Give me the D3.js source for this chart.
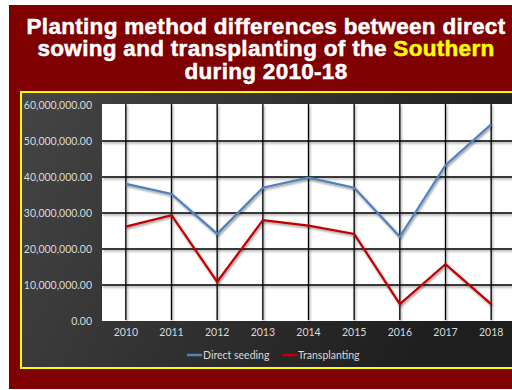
<html>
  <head>
    <meta charset="utf-8">
    <title>Planting method differences</title>
    <style>
      body { margin: 0; background: #fff; }
      svg { display: block; }
    </style>
    <script src="https://d3js.org/d3.v7.min.js"></script>
  </head>
  <body>
    <svg id="chart"></svg>
    <script>
      // values
      let years = ['2010', '2011', '2012', '2013', '2014', '2015', '2016', '2017', '2018'];
      let directSeeding = [38.1e6, 35.3e6, 24.2e6, 37.0e6, 39.8e6, 37.0e6, 23.4e6, 43.3e6, 54.6e6];
      let transplanting = [26.2e6, 29.4e6, 10.9e6, 28.0e6, 26.5e6, 24.2e6, 4.7e6, 15.8e6, 4.7e6];
      let yTicks = [0, 10e6, 20e6, 30e6, 40e6, 50e6, 60e6];
      let seriesNames = ['Direct seeding', 'Transplanting'];
      let seriesColors = ['#4f81bd', '#c00000'];

      let width = 512, height = 390;
      let svg = d3.select('#chart').attr('width', width).attr('height', height);

      let defs = svg.append('defs');
      let grad = defs.append('linearGradient').attr('id', 'boxbg')
        .attr('x1', '0%').attr('y1', '0%').attr('x2', '100%').attr('y2', '30%');
      grad.append('stop').attr('offset', '0%').attr('stop-color', '#454545');
      grad.append('stop').attr('offset', '100%').attr('stop-color', '#1e1e1e');
      let shadow = defs.append('filter').attr('id', 'shadow')
        .attr('x', '-10%').attr('y', '-10%').attr('width', '130%').attr('height', '130%');
      shadow.append('feDropShadow').attr('dx', 1).attr('dy', 1.5)
        .attr('stdDeviation', 0.8).attr('flood-color', '#000').attr('flood-opacity', 0.45);

      // dark red slide background
      svg.append('rect').attr('x', 9).attr('y', 5).attr('width', 503).attr('height', 384)
        .attr('fill', '#7f0000');

      // title
      let title = svg.append('text')
        .attr('text-anchor', 'middle')
        .style('font-family', '"Liberation Sans", Arial, sans-serif')
        .style('font-weight', 'bold')
        .style('font-size', '22.5px')
        .style('letter-spacing', '0.3px')
        .attr('fill', '#fff')
        .attr('stroke', '#fff')
        .attr('stroke-width', 0.5);
      title.append('tspan').attr('x', 266).attr('y', 33.5)
        .text('Planting method differences between direct');
      let line2 = title.append('tspan').attr('x', 266).attr('y', 56);
      line2.append('tspan').text('sowing and transplanting of the ');
      line2.append('tspan').attr('fill', '#ffff00').attr('stroke', '#ffff00').text('Southern');
      title.append('tspan').attr('x', 266).attr('y', 78.5).text('during 2010-18');

      // chart box with yellow border
      svg.append('rect').attr('x', 21).attr('y', 92).attr('width', 500).attr('height', 276)
        .attr('fill', 'url(#boxbg)').attr('stroke', '#ffff00').attr('stroke-width', 2);

      // plot area
      svg.append('rect').attr('x', 102).attr('y', 104).attr('width', 420).attr('height', 217)
        .attr('fill', '#fff');

      let xScale = d3.scaleBand().domain(years).range([103, 514]);
      let yScale = d3.scaleLinear().domain([0, 60e6]).range([321, 105]);
      let xc = d => xScale(d) + xScale.bandwidth() / 2;

      let grid = svg.append('g').attr('filter', 'url(#shadow)');
      grid.selectAll('line.h')
        .data(yTicks.filter(t => t > 0 && t < 60e6))
        .join('line')
        .attr('x1', 102).attr('x2', 512)
        .attr('y1', d => yScale(d)).attr('y2', d => yScale(d))
        .attr('stroke', '#000').attr('stroke-width', 1.3);
      grid.selectAll('line.v')
        .data(years)
        .join('line')
        .attr('x1', d => xc(d)).attr('x2', d => xc(d))
        .attr('y1', 104).attr('y2', 320)
        .attr('stroke', '#000').attr('stroke-width', 1.3);

      // y axis labels
      let yAxis = svg.append('g').attr('transform', 'translate(92,0)')
        .call(d3.axisLeft(yScale).tickValues(yTicks).tickSize(0).tickPadding(0)
          .tickFormat(d3.format(',.2f')));
      yAxis.select('.domain').remove();
      yAxis.selectAll('text')
        .style('font-family', 'Lato, sans-serif').style('font-size', '10.5px')
        .attr('fill', '#d9d9d9');

      // x axis labels
      let xAxis = svg.append('g').attr('transform', 'translate(0,329)')
        .call(d3.axisBottom(xScale).tickSize(0).tickPadding(0));
      xAxis.select('.domain').remove();
      xAxis.selectAll('text')
        .style('font-family', 'Lato, sans-serif').style('font-size', '10.5px')
        .attr('fill', '#d9d9d9');

      // lines
      let line = d3.line().x((d, i) => xc(years[i])).y(d => yScale(d));
      [directSeeding, transplanting].forEach((series, k) => {
        svg.append('path')
          .attr('d', line(series))
          .attr('fill', 'none')
          .attr('stroke', seriesColors[k])
          .attr('stroke-width', 2.2)
          .attr('filter', 'url(#shadow)');
      });

      // legend
      let legendX = [187, 282];
      let legend = svg.append('g').selectAll('g')
        .data(seriesNames)
        .join('g')
        .attr('transform', (d, i) => `translate(${legendX[i]},355)`);
      legend.append('line')
        .attr('x1', 0).attr('x2', 15)
        .attr('stroke', (d, i) => seriesColors[i]).attr('stroke-width', 2.5);
      legend.append('text')
        .attr('x', 16).attr('y', 4)
        .style('font-family', 'Lato, sans-serif').style('font-size', '10.5px')
        .attr('fill', '#d9d9d9')
        .text(d => d);
    </script>
  </body>
</html>
